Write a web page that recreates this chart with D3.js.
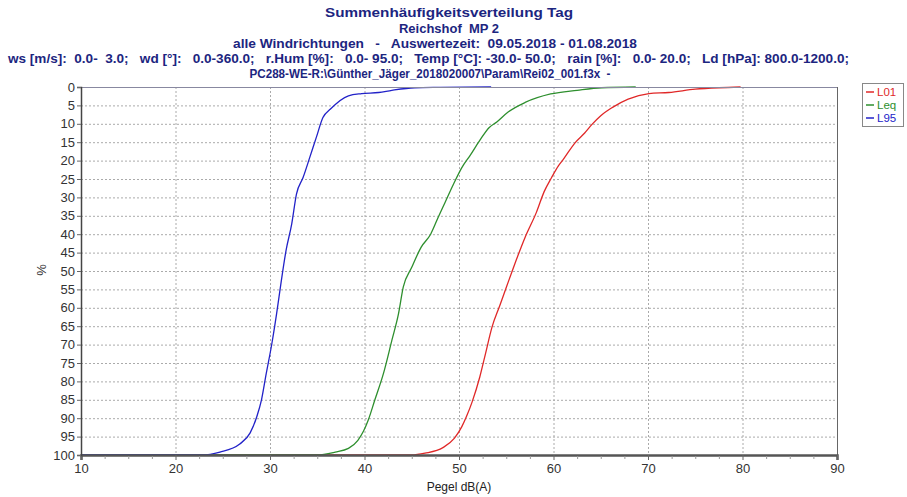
<!DOCTYPE html>
<html><head><meta charset="utf-8">
<script src="https://cdn.jsdelivr.net/npm/d3@7"></script>
<style>body{margin:0;background:#fff}svg{display:block}text{font-family:"Liberation Sans",Arial,sans-serif}</style>
</head><body><svg id="c" width="907" height="497"></svg>
<script>
const titleLines = [
  "Summenhäufigkeitsverteilung Tag",
  "Reichshof  MP 2",
  "alle Windrichtungen   -   Auswertezeit:  09.05.2018 - 01.08.2018",
  "ws [m/s]:  0.0-  3.0;   wd [°]:   0.0-360.0;   r.Hum [%]:   0.0- 95.0;   Temp [°C]: -30.0- 50.0;   rain [%]:   0.0- 20.0;   Ld [hPa]: 800.0-1200.0;",
  "PC288-WE-R:\\Günther_Jäger_2018020007\\Param\\Rei02_001.f3x  -"
];
const xTicks = [10,20,30,40,50,60,70,80,90];
const yTicks = [0,5,10,15,20,25,30,35,40,45,50,55,60,65,70,75,80,85,90,95,100];
const seriesNames = ["L01","Leq","L95"];
const seriesColors = ["#e02828","#2e8f2e","#2222c8"];

const l01_db  = [10,45,46.4,48.3,49.5,50.3,50.8,51.4,52.2,52.8,53.5,54.3,55,55.7,57,58.2,59,59.8,60.5,61,62.3,63.3,64.1,65,66.2,67.9,70.1,72.2,75,77.5,79.8];
const l01_pct = [100,100,99.5,98,95.5,92.3,89.5,85.5,78.8,72.5,65.2,59.5,54.5,49.5,40.8,34,28.5,24.6,21.5,19.8,15.1,12.5,10.1,7.8,5.6,3.3,1.8,1.5,0.6,0.2,0];
const leq_db  = [10,35,36.9,38.3,39.3,39.9,40.4,41.1,42.0,42.9,43.6,44.1,45.0,46.0,47.0,47.8,48.5,49.4,50.3,51.2,52.2,53.2,54,55.2,57,59.7,62.5,65.1,68.7];
const leq_pct = [100,100,99.2,98.2,96,93.5,90.5,85,77.9,68.8,61.6,54.4,49,43.5,40,35.4,31.5,26.5,21.9,18.5,14.5,11,9.5,6.8,4.2,1.9,0.9,0.2,0];
const l95_db  = [10,22.8,24.7,26.8,27.9,28.6,29.1,29.6,30.2,30.7,31.2,31.7,32.3,32.8,33.5,34.2,34.9,35.6,36.4,38.3,39.7,41.5,42.9,45.3,48,53.4];
const l95_pct = [100,100,99.2,97.0,94,89.6,85,77.9,69.7,61.6,52.6,44.4,37.2,29.1,24.6,19.2,13.7,8.3,6,2.4,1.8,1.5,0.9,0.2,0.1,0];

const series = [
  {name:seriesNames[0], color:seriesColors[0], pts:l01_db.map((d,i)=>[d,l01_pct[i]])},
  {name:seriesNames[1], color:seriesColors[1], pts:leq_db.map((d,i)=>[d,leq_pct[i]])},
  {name:seriesNames[2], color:seriesColors[2], pts:l95_db.map((d,i)=>[d,l95_pct[i]])}
];

const svg = d3.select("#c");
svg.append("rect").attr("width",907).attr("height",497).attr("fill","#fff");
const L=81,R=837,T=87,B=455;
const x = d3.scaleLinear().domain([10,90]).range([L,R]);
const y = d3.scaleLinear().domain([0,100]).range([T,B]);

// title
const tl = [
  {cx:449, by:17, w:248},
  {cx:449, by:33, w:100},
  {cx:435, by:48, w:404},
  {cx:428.5, by:63, w:841},
  {cx:430, by:78, w:361}
];
titleLines.forEach((t,i)=>{
  svg.append("text").attr("x",tl[i].cx).attr("y",tl[i].by)
    .attr("text-anchor","middle").attr("font-size",13).attr("font-weight","bold")
    .attr("fill","#1c2580").attr("xml:space","preserve").style("white-space","pre")
    .attr("textLength",tl[i].w).attr("lengthAdjust","spacingAndGlyphs").text(t);
});

// grid
const g = svg.append("g");
g.selectAll(".hg").data(yTicks.filter(v=>v>0&&v<100)).join("line")
  .attr("x1",L).attr("x2",R).attr("y1",d=>y(d)+0.5).attr("y2",d=>y(d)+0.5)
  .attr("stroke","#aaa").attr("stroke-width",1).attr("stroke-dasharray","2,2");
g.selectAll(".vg").data(xTicks.filter(v=>v>10&&v<90)).join("line")
  .attr("y1",T).attr("y2",B).attr("x1",d=>x(d)+0.5).attr("x2",d=>x(d)+0.5)
  .attr("stroke","#aaa").attr("stroke-width",1).attr("stroke-dasharray","2,2");

// curves
const line = d3.line().x(d=>x(d[0])).y(d=>y(d[1])).curve(d3.curveMonotoneX);
series.forEach(s=>{
  svg.append("path").attr("d",line(s.pts)).attr("fill","none")
    .attr("stroke",s.color).attr("stroke-width",1.3).attr("stroke-linejoin","round");
});

// frame
svg.append("line").attr("x1",L).attr("x2",R).attr("y1",T+0.5).attr("y2",T+0.5).attr("stroke","#8888a0").attr("stroke-width",1);
svg.append("line").attr("x1",R+0.5).attr("x2",R+0.5).attr("y1",T).attr("y2",B).attr("stroke","#666").attr("stroke-width",1);

// axes
const xAxis = d3.axisBottom(x).tickValues(xTicks).tickSize(5).tickPadding(4).tickFormat(d3.format("d"));
const gx = svg.append("g").attr("transform",`translate(0,${B})`).call(xAxis);
gx.select(".domain").attr("stroke","#555").attr("stroke-width",2.5);
gx.selectAll(".tick line").attr("stroke","#666");
gx.selectAll("text").attr("font-size",13).attr("fill","#333").attr("font-family","Liberation Sans, Arial, sans-serif");
const minor = d3.range(10,90.01,2.5).filter(v=>v%10!==0);
svg.append("g").selectAll("line").data(minor).join("line")
  .attr("x1",d=>x(d)+0.5).attr("x2",d=>x(d)+0.5).attr("y1",B+1).attr("y2",B+4)
  .attr("stroke","#999");

const yAxis = d3.axisLeft(y).tickValues(yTicks).tickSize(4).tickPadding(2).tickFormat(d3.format("d"));
const gy = svg.append("g").attr("transform",`translate(${L},0)`).call(yAxis);
gy.select(".domain").attr("stroke","#444").attr("stroke-width",1.5);
gy.selectAll(".tick line").attr("stroke","#666");
gy.selectAll("text").attr("font-size",13).attr("fill","#333").attr("font-family","Liberation Sans, Arial, sans-serif");

svg.append("text").attr("x",459).attr("y",491).attr("text-anchor","middle")
  .attr("font-size",12).attr("fill","#222").text("Pegel dB(A)");
svg.append("text").attr("transform","translate(46,270) rotate(-90)").attr("text-anchor","middle")
  .attr("font-size",13).attr("fill","#333").text("%");

// legend
const lg = svg.append("g");
lg.append("rect").attr("x",862.5).attr("y",83.5).attr("width",41).attr("height",43)
  .attr("fill","#fff").attr("stroke","#888");
series.forEach((s,i)=>{
  const yy = 92 + i*13;
  lg.append("line").attr("x1",866).attr("x2",874).attr("y1",yy).attr("y2",yy).attr("stroke",s.color).attr("stroke-width",1.5);
  lg.append("text").attr("x",877).attr("y",yy+4).attr("font-size",11.5).attr("fill",s.color).text(s.name);
});
</script></body></html>
